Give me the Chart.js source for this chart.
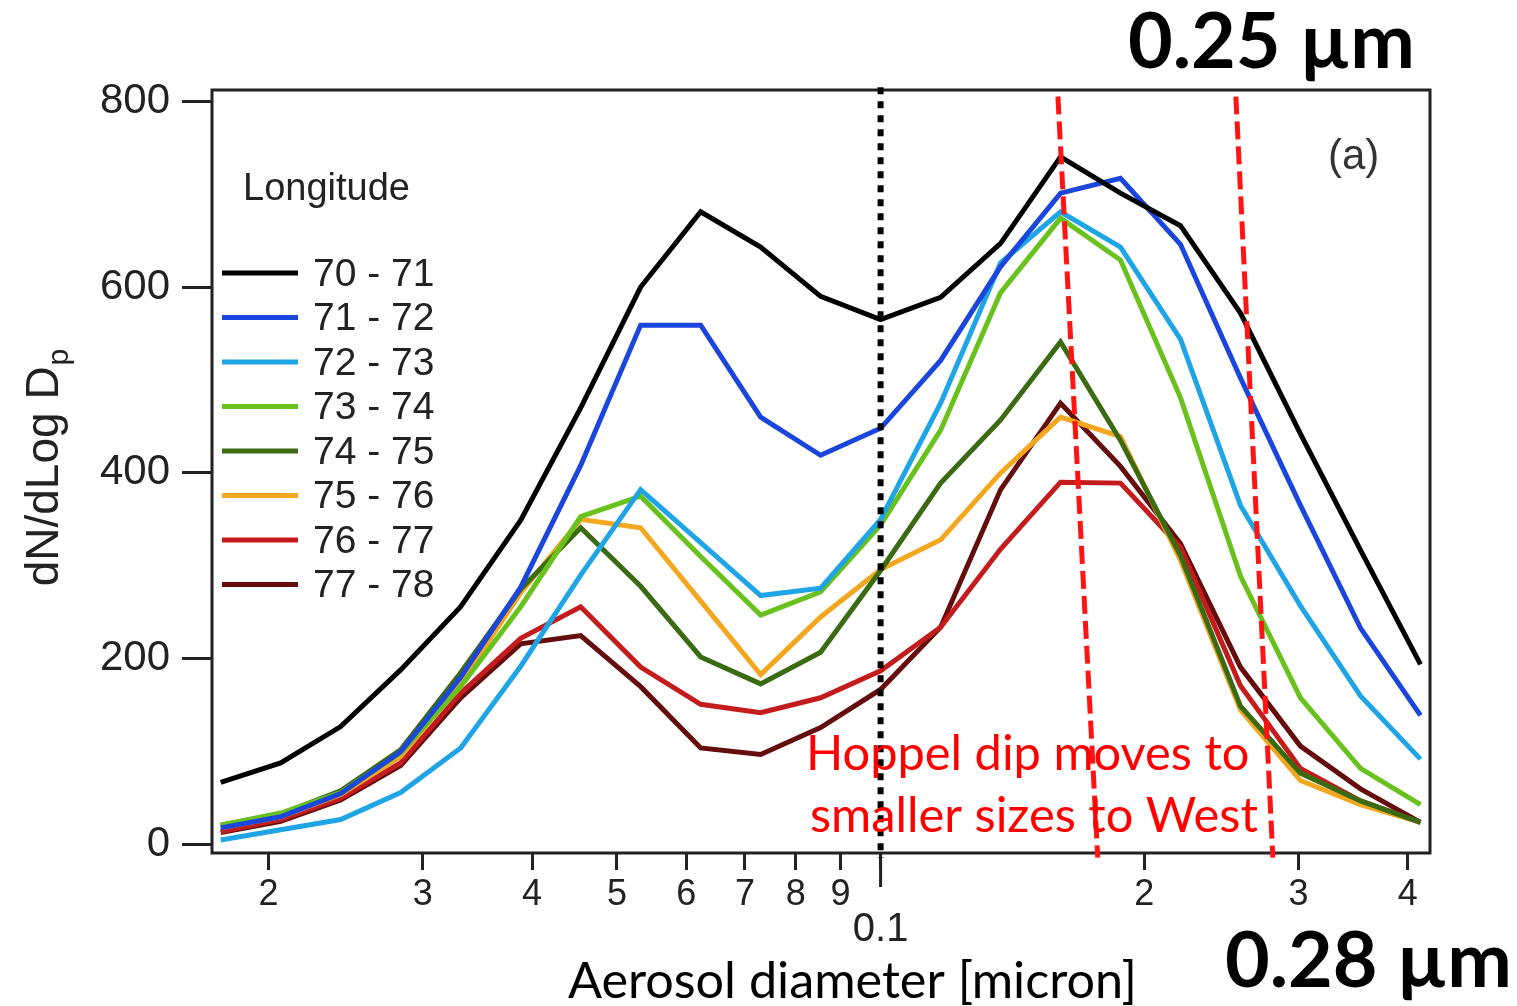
<!DOCTYPE html>
<html>
<head>
<meta charset="utf-8">
<script src="https://cdn.jsdelivr.net/npm/chart.js@4/dist/chart.umd.min.js"></script>
<style>
  html, body { margin: 0; padding: 0; background: #fff; }
  #wrap { width: 1517px; height: 1006px; position: relative; }
</style>
</head>
<body>
<div id="wrap"><canvas id="sizeChart" width="1517" height="1006"></canvas></div>
<script>
// particle diameters (micron) of the size bins
const diameters = [0.01764, 0.02065, 0.02418, 0.02831, 0.03315, 0.03882, 0.04545, 0.05321, 0.06231, 0.07295, 0.08541,
                   0.1, 0.1171, 0.1371, 0.1605, 0.1879, 0.2200, 0.2576, 0.3016, 0.3532, 0.4135];

// dN/dLogDp per longitude band
const lon70_71 = [67, 88, 127, 188, 256, 349, 470, 600, 681, 643, 590, 565, 589, 647, 740, 701, 666, 572, 442, 317, 194];
const lon71_72 = [18, 30, 55, 100, 180, 277, 408, 559, 559, 460, 419, 448, 521, 622, 701, 717, 646, 502, 365, 233, 139];
const lon72_73 = [5, 16, 27, 56, 104, 192, 290, 382, 325, 268, 276, 350, 475, 626, 681, 643, 544, 365, 257, 160, 92];
const lon73_74 = [21, 34, 56, 99, 170, 256, 353, 375, 310, 247, 272, 344, 446, 594, 674, 629, 481, 289, 158, 82, 43];
const lon74_75 = [21, 33, 58, 102, 185, 275, 341, 278, 202, 173, 207, 295, 389, 457, 541, 435, 311, 149, 77, 47, 24];
const lon75_76 = [18, 30, 54, 95, 174, 271, 350, 341, 262, 183, 245, 296, 328, 400, 460, 439, 306, 145, 69, 43, 24];
const lon76_77 = [14, 27, 50, 88, 163, 222, 256, 191, 151, 142, 158, 187, 234, 318, 390, 389, 320, 171, 82, 47, 24];
const lon77_78 = [13, 25, 48, 85, 158, 216, 225, 170, 104, 97, 126, 167, 234, 382, 475, 407, 324, 191, 106, 60, 24];

const seriesLabels = ['70 - 71', '71 - 72', '72 - 73', '73 - 74', '74 - 75', '75 - 76', '76 - 77', '77 - 78'];
const seriesColors = ['#000000', '#1b46dc', '#1fa5e6', '#68c11c', '#3a6a12', '#f2a71e', '#c41c1c', '#650c0c'];
const allSeries = [lon70_71, lon71_72, lon72_73, lon73_74, lon74_75, lon75_76, lon76_77, lon77_78];

const xTickValues = [0.02, 0.03, 0.04, 0.05, 0.06, 0.07, 0.08, 0.09, 0.1, 0.2, 0.3, 0.4];
const yTickValues = [0, 200, 400, 600, 800];

// annotation lines: the 0.1 micron marker and the two Hoppel dip lines (top x, bottom x)
const markerDiameter = 0.1;
const hoppelLines = [[0.1594, 0.177], [0.2545, 0.2805]];

const datasets = allSeries.map((vals, i) => ({
    label: seriesLabels[i],
    data: diameters.map((d, k) => ({ x: d, y: vals[k] })),
    borderColor: seriesColors[i],
    borderWidth: 5,
    pointRadius: 0,
    tension: 0,
    fill: false
}));

function fitFont(ctx, text, weight, family, width) {
    ctx.font = weight + ' 100px ' + family;
    const size = 100 * width / ctx.measureText(text).width;
    ctx.font = weight + ' ' + size.toFixed(2) + 'px ' + family;
    return size;
}

const overlayPlugin = {
    id: 'overlay',
    afterDatasetsDraw(chart) {
        const ctx = chart.ctx;
        const xs = chart.scales.x, ys = chart.scales.y;
        const area = chart.chartArea;
        ctx.save();

        // frame
        ctx.strokeStyle = '#222';
        ctx.lineWidth = 3;
        ctx.strokeRect(area.left, area.top, area.right - area.left, area.bottom - area.top);

        // longer tick and label under 0.1
        const x01 = xs.getPixelForValue(markerDiameter);
        ctx.beginPath();
        ctx.moveTo(x01, area.bottom);
        ctx.lineTo(x01, area.bottom + 34);
        ctx.stroke();
        ctx.fillStyle = '#222';
        ctx.textAlign = 'center';
        ctx.textBaseline = 'middle';
        ctx.font = '40px "Liberation Sans Narrow", "Liberation Sans", Arial, sans-serif';
        ctx.fillText('0.1', x01, 930);

        // dotted marker at 0.1 micron
        ctx.strokeStyle = '#000';
        ctx.lineWidth = 6;
        ctx.setLineDash([7, 7]);
        ctx.beginPath();
        ctx.moveTo(x01, ys.getPixelForValue(815));
        ctx.lineTo(x01, ys.getPixelForValue(-14));
        ctx.stroke();

        // Hoppel dip lines
        ctx.strokeStyle = '#ff1414';
        ctx.lineWidth = 5;
        ctx.setLineDash([18, 7]);
        hoppelLines.forEach(l => {
            ctx.beginPath();
            ctx.moveTo(xs.getPixelForValue(l[0]), ys.getPixelForValue(805));
            ctx.lineTo(xs.getPixelForValue(l[1]), ys.getPixelForValue(-14));
            ctx.stroke();
        });
        ctx.setLineDash([]);

        // legend
        ctx.fillStyle = '#222';
        ctx.textBaseline = 'middle';
        ctx.textAlign = 'left';
        ctx.font = '38px "Liberation Sans", Arial, sans-serif';
        ctx.fillText('Longitude', 243, 190);
        ctx.font = '39px "Liberation Sans", Arial, sans-serif';
        chart.data.datasets.forEach((ds, i) => {
            const y = 273 + i * 44.5;
            ctx.strokeStyle = ds.borderColor;
            ctx.lineWidth = 5;
            ctx.beginPath();
            ctx.moveTo(222, y);
            ctx.lineTo(298, y);
            ctx.stroke();
            ctx.fillText(ds.label, 313, y + 2);
        });

        // panel label
        ctx.fillStyle = '#333';
        ctx.font = '42px "Liberation Sans", Arial, sans-serif';
        ctx.fillText('(a)', 1328, 157);

        // y axis title with subscript
        ctx.save();
        ctx.translate(58, 468);
        ctx.rotate(-Math.PI / 2);
        ctx.fillStyle = '#222';
        ctx.textBaseline = 'alphabetic';
        ctx.textAlign = 'left';
        ctx.font = '46px "Liberation Sans", Arial, sans-serif';
        const main = 'dN/dLog D';
        const w1 = ctx.measureText(main).width;
        ctx.font = '30px "Liberation Sans", Arial, sans-serif';
        const w2 = ctx.measureText('p').width;
        const start = -(w1 + w2) / 2;
        ctx.font = '46px "Liberation Sans", Arial, sans-serif';
        ctx.fillText(main, start, 0);
        ctx.font = '30px "Liberation Sans", Arial, sans-serif';
        ctx.fillText('p', start + w1 + 1, 10);
        ctx.restore();

        // x axis title
        ctx.fillStyle = '#000';
        ctx.textBaseline = 'alphabetic';
        fitFont(ctx, 'Aerosol diameter [micron]', 'normal', 'Lato', 569);
        ctx.fillText('Aerosol diameter [micron]', 568, 998);

        // red note
        ctx.fillStyle = '#ff0000';
        fitFont(ctx, 'smaller sizes to West', 'normal', 'Lato', 448);
        ctx.fillText('Hoppel dip moves to', 806, 770);
        ctx.fillText('smaller sizes to West', 810, 832);

        // size labels
        ctx.fillStyle = '#000';
        fitFont(ctx, '0.25 \u00b5m', 'bold', 'Lato', 287);
        ctx.fillText('0.25 \u00b5m', 1128, 68);
        fitFont(ctx, '0.28 \u00b5m', 'bold', 'Lato', 287);
        ctx.fillText('0.28 \u00b5m', 1225, 987);

        ctx.restore();
    }
};

const ctx = document.getElementById('sizeChart').getContext('2d');
new Chart(ctx, {
    type: 'line',
    data: { datasets: datasets },
    options: {
        responsive: false,
        animation: false,
        layout: { padding: { top: 90, right: 87, left: 0, bottom: 0 } },
        plugins: { legend: { display: false }, tooltip: { enabled: false } },
        scales: {
            x: {
                type: 'logarithmic',
                min: 0.01724,
                max: 0.424,
                afterBuildTicks: scale => { scale.ticks = xTickValues.map(v => ({ value: v })); },
                afterFit: scale => { scale.height = 153; },
                border: { display: false },
                grid: { display: true, drawOnChartArea: false, drawTicks: true, tickLength: 17, color: '#222', lineWidth: 3 },
                ticks: {
                    autoSkip: false,
                    maxRotation: 0,
                    padding: 3,
                    color: '#222',
                    font: { family: '"Liberation Sans Narrow", "Liberation Sans", Arial, sans-serif', size: 36 },
                    callback: v => {
                        if (Math.abs(v - 0.1) < 1e-9) return '';
                        return v < 0.1 ? String(Math.round(v * 100)) : String(Math.round(v * 10));
                    }
                }
            },
            y: {
                min: -9,
                max: 812,
                afterBuildTicks: scale => { scale.ticks = yTickValues.map(v => ({ value: v })); },
                afterFit: scale => { scale.width = 212; },
                border: { display: false },
                grid: { display: true, drawOnChartArea: false, drawTicks: true, tickLength: 30, color: '#222', lineWidth: 3 },
                ticks: {
                    padding: 12,
                    color: '#222',
                    font: { family: '"Liberation Sans", Arial, sans-serif', size: 42 }
                }
            }
        }
    },
    plugins: [overlayPlugin]
});
</script>
</body>
</html>
